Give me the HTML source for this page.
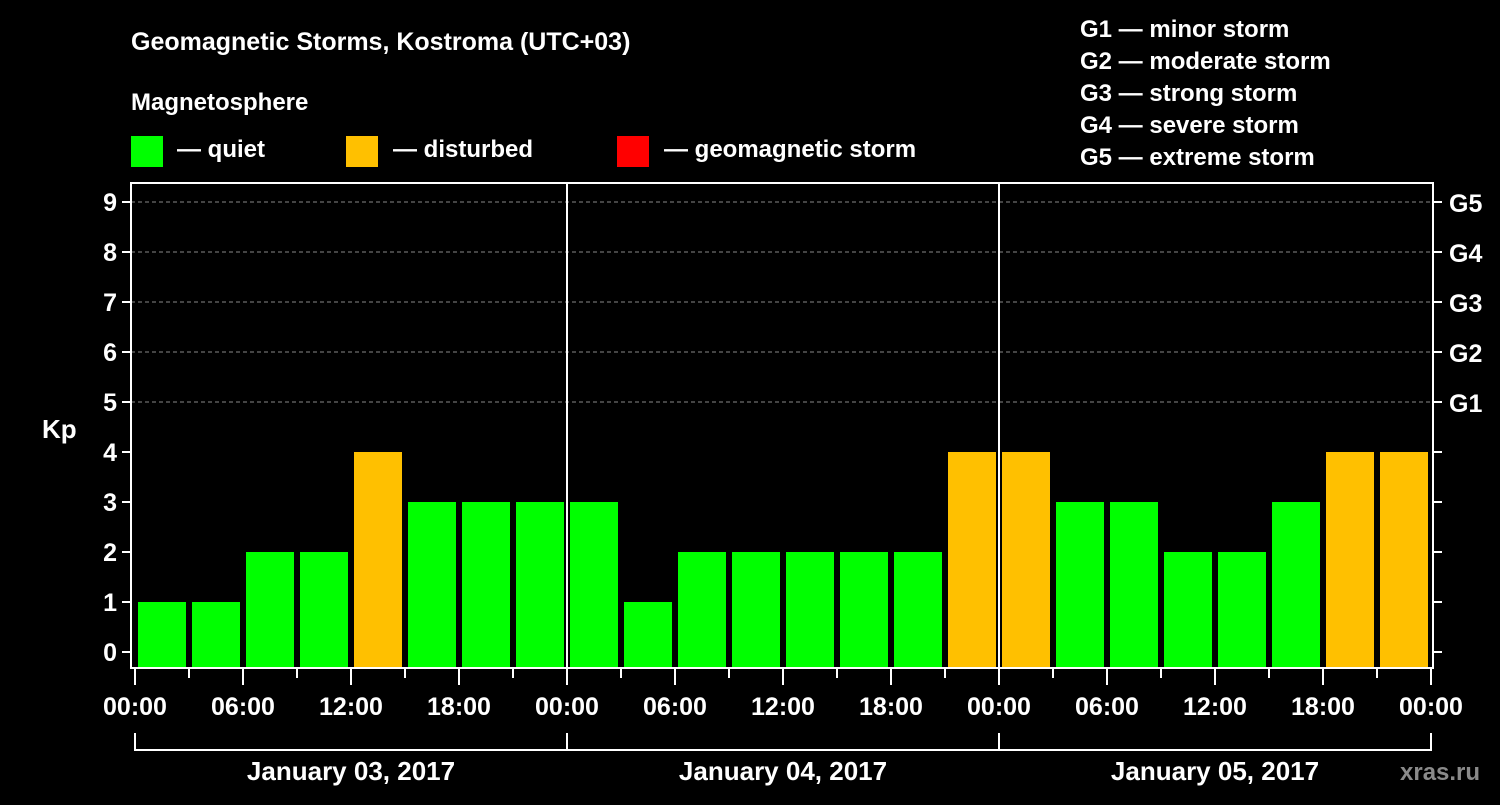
<!DOCTYPE html>
<html><head><meta charset="utf-8"><style>
body{margin:0;background:#000;width:1500px;height:800px;overflow:hidden}
svg text{font-family:"Liberation Sans",sans-serif;font-weight:bold;fill:#fff}
</style></head><body>
<svg id="c" width="1500" height="800">
<text x="131" y="50" font-size="25">Geomagnetic Storms, Kostroma (UTC+03)</text>
<text x="131" y="110" font-size="24">Magnetosphere</text>
<g><rect x="131" y="136" width="32" height="31" fill="#00ff00"/><text x="177" y="157" font-size="24">— quiet</text></g>
<g><rect x="346" y="136" width="32" height="31" fill="#ffc000"/><text x="393" y="157" font-size="24">— disturbed</text></g>
<g><rect x="617" y="136" width="32" height="31" fill="#ff0000"/><text x="664" y="157" font-size="24">— geomagnetic storm</text></g>
<g font-size="24">
<text x="1080" y="37">G1 — minor storm</text><text x="1080" y="69">G2 — moderate storm</text><text x="1080" y="101">G3 — strong storm</text><text x="1080" y="133">G4 — severe storm</text><text x="1080" y="165">G5 — extreme storm</text></g>
<text x="42" y="438" font-size="26">Kp</text>
<text x="1400" y="780" font-size="24" fill="#888" style="fill:#8a8a8a">xras.ru</text>
<g id="plot"></g>
</svg>
<script>
const kpValues=[1,1,2,2,4,3,3,3, 3,1,2,2,2,2,2,4, 4,3,3,2,2,3,4,4];
const dayLabels=["January 03, 2017","January 04, 2017","January 05, 2017"];
const hourLabels=["00:00","06:00","12:00","18:00"];
const yTicks=[0,1,2,3,4,5,6,7,8,9];
const gLabels=["G1","G2","G3","G4","G5"];
const NS="http://www.w3.org/2000/svg",g=document.getElementById('plot');
const L=131,R=1433,T=183,B=668,X0=135,DAY=432;
const y=v=>652-50*v, x=h=>X0+18*h;
function mk(t,a,p){const e=document.createElementNS(NS,t);for(const k in a)e.setAttribute(k,a[k]);(p||g).appendChild(e);return e;}
// gridlines
yTicks.forEach(v=>{if(v>=5){const l=mk('line',{x1:L,x2:R,y1:y(v),y2:y(v),stroke:'#888','stroke-dasharray':'4,3','stroke-width':1});

}});
// bars
kpValues.forEach((v,i)=>{const c=v>=5?'#ff0000':v>=4?'#ffc000':'#00ff00';
const r=mk('rect',{x:x(3*i)+3,y:y(v),width:48,height:B-y(v),fill:c});

});
// axes frame
mk('path',{d:`M${L} ${T}H${R}V${B}H${L}Z`,fill:'none',stroke:'#fff','stroke-width':2});
for(let d=1;d<dayLabels.length;d++){const l=mk('line',{x1:X0+d*DAY,x2:X0+d*DAY,y1:T,y2:B,stroke:'#fff','stroke-width':2});

}
// y ticks
yTicks.forEach(v=>{mk('line',{x1:L-9,x2:L,y1:y(v),y2:y(v),stroke:'#fff','stroke-width':2});
if(v<9)mk('line',{x1:R,x2:R+9,y1:y(v),y2:y(v),stroke:'#fff','stroke-width':2});
else mk('line',{x1:R,x2:R+9,y1:y(v),y2:y(v),stroke:'#fff','stroke-width':2});
const t=mk('text',{x:L-14,y:y(v)+9,'text-anchor':'end','font-size':25});t.textContent=v;

});
gLabels.forEach((s,i)=>{const t=mk('text',{x:1449,y:y(5+i)+10,'font-size':25});t.textContent=s;

});
// x ticks
for(let h=0;h<=72;h+=3){const major=h%6==0;mk('line',{x1:x(h),x2:x(h),y1:B,y2:B+(major?17:10),stroke:'#fff','stroke-width':2});}
for(let h=0;h<=72;h+=6){const t=mk('text',{x:x(h),y:715,'text-anchor':'middle','font-size':25});t.textContent=hourLabels[(h/6)%4];

}
// day brackets
dayLabels.forEach((s,d)=>{const a=X0+d*DAY;mk('path',{d:`M${a} 733V750H${a+DAY}V733`,fill:'none',stroke:'#fff','stroke-width':2});
const t=mk('text',{x:a+DAY/2,y:780,'text-anchor':'middle','font-size':26});t.textContent=s;

});
</script>
</body></html>
